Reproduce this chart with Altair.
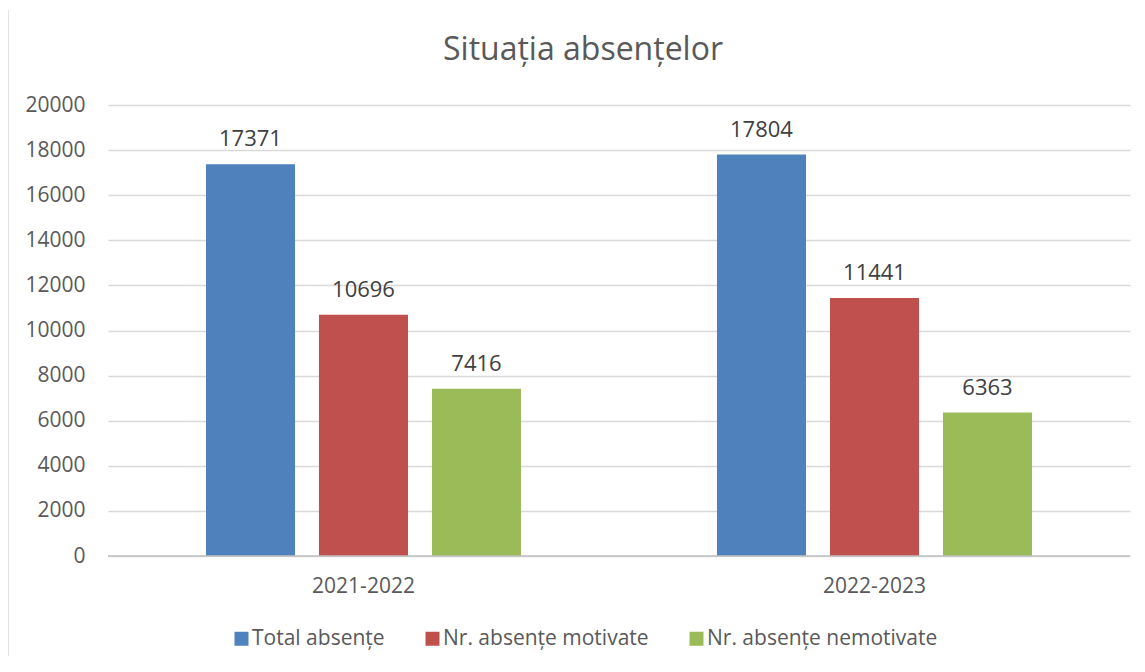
import altair as alt
import pandas as pd

years = ["2021-2022", "2022-2023"]
series = ["Total absențe", "Nr. absențe motivate", "Nr. absențe nemotivate"]
total = [17371, 17804]
motivate = [10696, 11441]
nemotivate = [7416, 6363]
colors = ["#4F81BD", "#C0504D", "#9BBB59"]
y_ticks = [0, 2000, 4000, 6000, 8000, 10000, 12000, 14000, 16000, 18000, 20000]

rows = []
for i, yr in enumerate(years):
    for s, vals in zip(series, [total, motivate, nemotivate]):
        rows.append({"an": yr, "serie": s, "valoare": vals[i]})
df = pd.DataFrame(rows)

FONT = "Open Sans"
GREY = "#595959"

x_enc = alt.X("an:N", sort=years, title=None,
              scale=alt.Scale(paddingInner=0, paddingOuter=0),
              axis=alt.Axis(labelAngle=0, labelFontSize=21, labelColor=GREY,
                            labelFont=FONT, labelPadding=19, ticks=False,
                            domain=False, grid=False))
xoff = alt.XOffset("serie:N", sort=series,
                   scale=alt.Scale(paddingInner=0.212, paddingOuter=0.867))
y_enc = alt.Y("valoare:Q", title=None,
              scale=alt.Scale(domain=[0, 20000], nice=False),
              axis=alt.Axis(values=y_ticks, format="d", labelFontSize=21,
                            labelColor=GREY, labelFont=FONT, labelPadding=23,
                            ticks=False, domain=False, gridColor="#D9D9D9",
                            gridWidth=1.5))

base = alt.Chart(df)

bars = base.mark_bar().encode(
    x=x_enc, xOffset=xoff, y=y_enc,
    color=alt.Color("serie:N", sort=series, title=None,
                    scale=alt.Scale(domain=series, range=colors),
                    legend=alt.Legend(orient="none", direction="horizontal",
                                      legendX=123, legendY=523,
                                      symbolType="square", symbolSize=196,
                                      symbolStrokeWidth=0,
                                      labelFontSize=21, labelFont=FONT,
                                      labelColor=GREY, labelOffset=0,
                                      columnPadding=37, labelLimit=400)),
)

labels = base.mark_text(baseline="alphabetic", dy=-18, fontSize=22,
                        font=FONT, color="#404040").encode(
    x=alt.X("an:N", sort=years), xOffset=xoff, y="valoare:Q",
    text=alt.Text("valoare:Q", format="d"),
)

zero = alt.Chart(pd.DataFrame({"z": [0]})).mark_rule(
    color="#BFBFBF", strokeWidth=1.5).encode(y="z:Q")

border = alt.Chart(pd.DataFrame({"z": [0]})).mark_rule(
    color="#D9D9D9", strokeWidth=1.5).encode(
    x=alt.value(-100), y=alt.value(-95), y2=alt.value(552))

chart = alt.layer(bars, zero, labels, border).properties(
    width=1022, height=451,
    background="white",
    padding={"left": 100, "top": 97, "right": 4, "bottom": 100},
    autosize=alt.AutoSizeParams(type="none"),
    title=alt.TitleParams("Situația absențelor", fontSize=32, font=FONT,
                          fontWeight="normal", color=GREY, anchor="middle",
                          offset=-58, dx=-36),
).configure_view(stroke="transparent", strokeWidth=0)

chart.save("out.html", embed_options={"renderer": "svg", "actions": False})
